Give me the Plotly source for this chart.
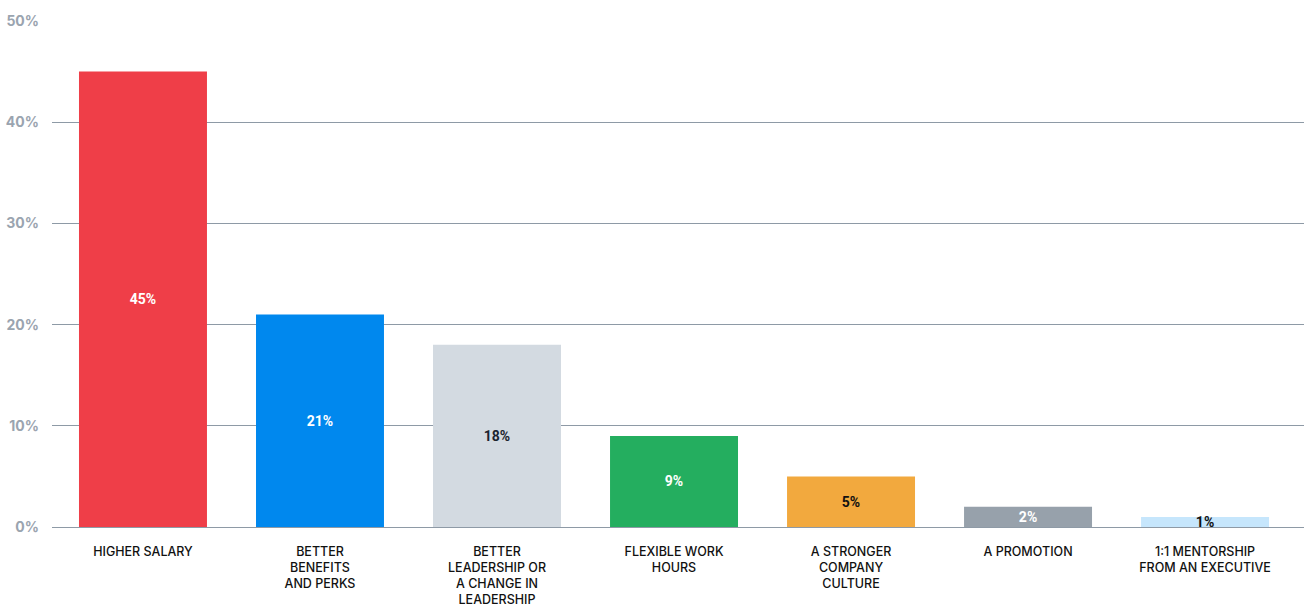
import plotly.graph_objects as go

# Survey: what would make respondents stay / switch jobs
categories = [
    "HIGHER SALARY",
    "BETTER<br>BENEFITS<br>AND PERKS",
    "BETTER<br>LEADERSHIP OR<br>A CHANGE IN<br>LEADERSHIP",
    "FLEXIBLE WORK<br>HOURS",
    "A STRONGER<br>COMPANY<br>CULTURE",
    "A PROMOTION",
    "1:1 MENTORSHIP<br>FROM AN EXECUTIVE",
]
shares = [45, 21, 18, 9, 5, 2, 1]
bar_colors = ["#EF3E48", "#0088EE", "#D3DAE1", "#24AE5F", "#F2A93E", "#97A1AB", "#C6E6FC"]
label_colors = ["#FFFFFF", "#FFFFFF", "#1B2430", "#FFFFFF", "#111111", "#FFFFFF", "#111111"]

y_ticks = [0, 10, 20, 30, 40, 50]
y_tick_text = ["0%", "10%", "20%", "30%", "40%", "50%"]

fig = go.Figure(
    go.Bar(
        x=list(range(len(categories))),
        y=shares,
        marker=dict(color=bar_colors, line=dict(width=0)),
        text=[f"{v}%" for v in shares],
        textposition="inside",
        insidetextanchor="middle",
        constraintext="none",
        textfont=dict(family="Roboto", size=14, color=label_colors, weight="bold"),
        cliponaxis=False,
        hoverinfo="skip",
    )
)

fig.update_layout(
    width=1304,
    height=605,
    margin=dict(l=52, r=0, t=21, b=78),
    paper_bgcolor="white",
    plot_bgcolor="white",
    bargap=0.277,
    showlegend=False,
    xaxis=dict(
        range=[-0.514, 6.559],
        tickvals=list(range(len(categories))),
        ticktext=categories,
        showgrid=False,
        showline=False,
        zeroline=False,
        ticks="",
        automargin=False,
        ticklabelstandoff=15,
        tickfont=dict(family="Inter", size=12.5, color="#111111", weight=500),
        fixedrange=True,
    ),
    yaxis=dict(
        range=[0, 50],
        tickvals=y_ticks,
        ticktext=y_tick_text,
        showgrid=True,
        gridcolor="#8E9AA6",
        gridwidth=1,
        zeroline=True,
        zerolinecolor="#8E9AA6",
        zerolinewidth=1,
        showline=False,
        ticks="",
        automargin=False,
        ticklabelstandoff=12,
        tickfont=dict(family="Inter", size=14, color="#9AA4AF", weight="bold"),
        fixedrange=True,
        layer="below traces",
    ),
)

fig.write_html("out.html")
